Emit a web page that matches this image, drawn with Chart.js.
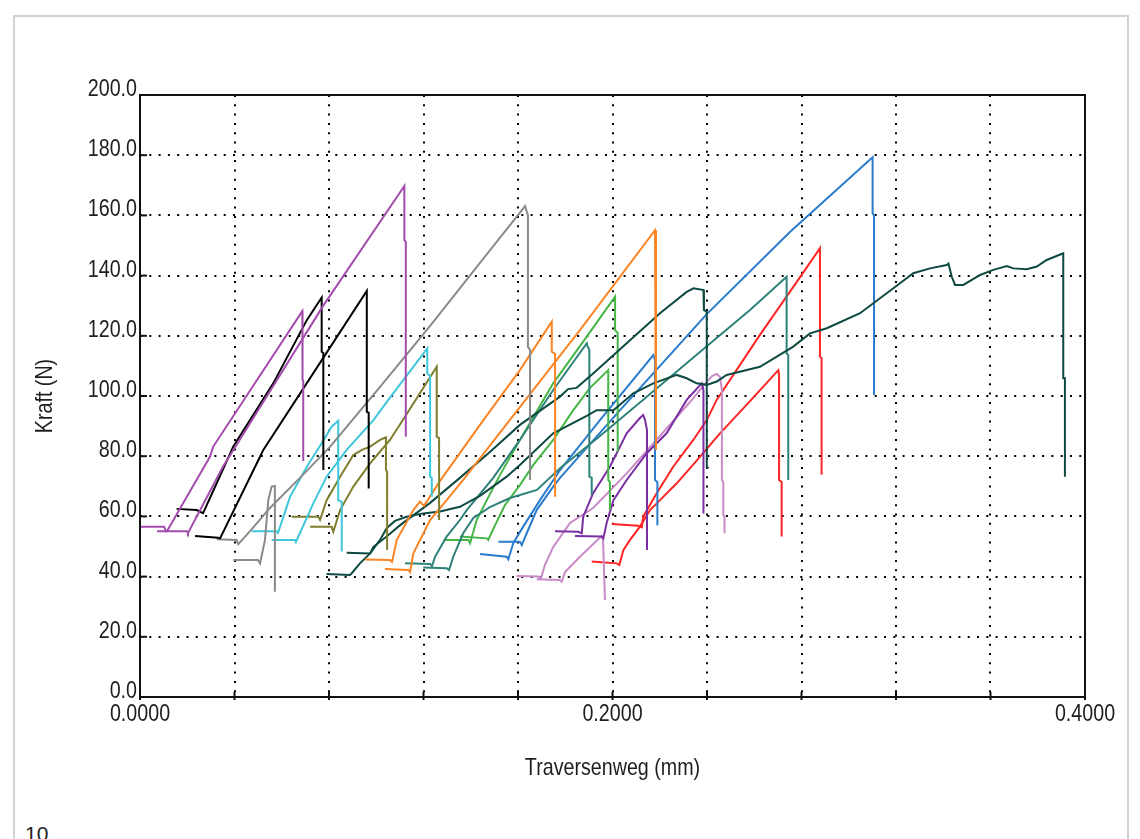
<!DOCTYPE html>
<html>
<head>
<meta charset="utf-8">
<title>Kraft / Traversenweg</title>
<script src="https://cdn.jsdelivr.net/npm/chart.js@4.4.1/dist/chart.umd.min.js"></script>
<style>
  html, body { margin: 0; padding: 0; background: #fff; }
  body { width: 1140px; height: 839px; overflow: hidden; position: relative; }
  #page { position: absolute; left: 13px; top: 15px; width: 1112px; height: 900px; border: 2px solid #d2d2d2; border-bottom: none; }
  #pageNo { position: absolute; left: 25px; top: 824px; font: 21px/20px "Liberation Sans", Arial, sans-serif; color: #222; }
  #chart { position: absolute; left: 0; top: 0; }
</style>
</head>
<body>
<div id="page"></div>
<div id="pageNo">10</div>
<canvas id="chart" width="1140" height="839"></canvas>
<script>
// Traversenweg (mm), Kraft (N) pairs, two tests per colour
const purple1 = [[0, 56.6], [0.0102, 56.6], [0.0110, 55.1], [0.0114, 55.1], [0.0296, 79.8], [0.0310, 83.2],
  [0.0687, 128.2], [0.0688, 105.3], [0.0691, 105.0], [0.0691, 78.4]];
const purple2 = [[0.0072, 55.1], [0.0199, 55.1], [0.0203, 54.4], [0.0351, 76.5], [0.0773, 129.7],
  [0.1119, 169.8], [0.1119, 151.8], [0.1125, 151.2], [0.1125, 86.5]];
const black1 = [[0.0155, 62.5], [0.0240, 62.1], [0.0267, 61.1], [0.0395, 83.2], [0.0564, 104.2], [0.0706, 125.2],
  [0.0769, 132.7], [0.0769, 114.7], [0.0776, 114.3], [0.0776, 75.4]];
const black2 = [[0.0233, 53.5], [0.0331, 52.9], [0.0339, 52.7], [0.0508, 79.8], [0.0522, 82.1],
  [0.0960, 134.9], [0.0960, 94.8], [0.0968, 94.4], [0.0968, 69.3]];
const gray1 = [[0.0395, 45.5], [0.0499, 45.5], [0.0508, 44.4], [0.0529, 52.2], [0.0543, 65.4], [0.0557, 69.9],
  [0.0571, 70.1], [0.0571, 35.0]];
const gray2 = [[0.0325, 52.4], [0.0409, 52.2], [0.0416, 50.8], [0.0466, 55.1], [0.0550, 62.8], [0.0677, 72.8],
  [0.0804, 83.1], [0.1016, 103.0], [0.1228, 123.3], [0.1439, 144.2], [0.1630, 163.1],
  [0.1642, 160.1], [0.1642, 116.4], [0.1651, 115.3], [0.1651, 72.1]];
const cyan1 = [[0.0473, 55.1], [0.0579, 55.1], [0.0584, 54.5], [0.0635, 66.5], [0.0706, 76.5], [0.0769, 84.3],
  [0.0811, 89.8], [0.0839, 91.8], [0.0839, 65.4], [0.0854, 64.8], [0.0854, 48.3]];
const cyan2 = [[0.0557, 52.2], [0.0656, 52.2], [0.0660, 51.5], [0.0734, 64.4], [0.0790, 73.2], [0.0875, 82.1],
  [0.0988, 92.0], [0.1051, 98.7], [0.1216, 115.8], [0.1216, 107.5], [0.1228, 106.6], [0.1228, 73.2],
  [0.1235, 72.8], [0.1235, 66.5]];
const olive1 = [[0.0642, 59.9], [0.0755, 59.9], [0.0762, 58.8], [0.0790, 65.4], [0.0847, 73.2], [0.0903, 80.4],
  [0.0940, 82.1], [0.0974, 83.2], [0.1016, 85.4], [0.1041, 86.3], [0.1041, 75.4], [0.1046, 74.8], [0.1046, 48.8]];
const olive2 = [[0.0720, 56.6], [0.0811, 56.6], [0.0818, 54.9], [0.0847, 62.1], [0.0903, 69.9], [0.0974, 77.6],
  [0.1058, 85.4], [0.1129, 94.0], [0.1256, 109.7], [0.1256, 86.5], [0.1266, 86.0], [0.1266, 58.8]];
const orange1 = [[0.0952, 45.7], [0.1058, 45.5], [0.1067, 44.9], [0.1087, 52.2], [0.1157, 62.1], [0.1185, 64.9],
  [0.1202, 63.5], [0.1270, 71.8], [0.1439, 90.4], [0.1608, 108.6], [0.1743, 124.7],
  [0.1743, 114.7], [0.1757, 114.0], [0.1757, 66.5]];
const orange2 = [[0.1037, 42.5], [0.1136, 42.2], [0.1143, 41.5], [0.1157, 47.7], [0.1228, 58.8], [0.1298, 65.4],
  [0.1368, 72.1], [0.1608, 96.3], [0.1862, 121.9], [0.2180, 155.1], [0.2184, 154.5], [0.2184, 82.1]];
const darkGreen1 = [[0.0875, 47.9], [0.0974, 47.7], [0.0988, 49.9], [0.1044, 53.3], [0.1101, 57.1], [0.1228, 64.5],
  [0.1354, 72.8], [0.1481, 81.4], [0.1608, 90.4], [0.1778, 99.8], [0.1812, 102.3], [0.1848, 102.7],
  [0.1918, 107.5], [0.2060, 117.5], [0.2201, 127.5], [0.2314, 134.6], [0.2343, 135.8], [0.2385, 135.2],
  [0.2387, 128.6], [0.2399, 127.9], [0.2399, 76.5], [0.2406, 76.0]];
const darkGreen2 = [[0.0790, 40.9], [0.0889, 40.5], [0.0897, 41.2], [0.0931, 44.4], [0.0974, 47.7], [0.1016, 52.2],
  [0.1044, 56.1], [0.1079, 58.5], [0.1129, 59.9], [0.1199, 61.0], [0.1270, 61.6], [0.1354, 63.2], [0.1439, 66.8],
  [0.1552, 73.2], [0.1608, 77.1], [0.1749, 87.6], [0.1891, 93.4], [0.1933, 95.3], [0.2004, 95.3], [0.2088, 100.9],
  [0.2173, 104.2], [0.2272, 107.0], [0.2314, 105.9], [0.2356, 104.2], [0.2399, 103.7], [0.2441, 104.8],
  [0.2483, 107.0], [0.2624, 109.7], [0.2765, 116.4], [0.2836, 120.8], [0.2907, 122.5], [0.3048, 127.5],
  [0.3104, 130.8], [0.3189, 135.8], [0.3273, 140.8], [0.3344, 142.4], [0.3415, 143.5], [0.3422, 144.0],
  [0.3436, 139.6], [0.3450, 136.9], [0.3485, 136.9], [0.3556, 140.2], [0.3612, 141.9], [0.3669, 143.2],
  [0.3697, 142.4], [0.3753, 142.1], [0.3796, 143.0], [0.3838, 145.2], [0.3908, 147.4],
  [0.3908, 105.9], [0.3915, 105.9], [0.3915, 73.2]];
const teal1 = [[0.1122, 44.4], [0.1228, 44.2], [0.1236, 43.5], [0.1249, 46.6], [0.1298, 53.3], [0.1354, 58.8],
  [0.1383, 62.1], [0.1495, 72.8], [0.1608, 85.4], [0.1749, 102.0], [0.1834, 111.3], [0.1891, 117.5],
  [0.1892, 116.9], [0.1902, 115.3], [0.1902, 73.2], [0.1912, 72.8], [0.1912, 67.1]];
const teal2 = [[0.1199, 43.0], [0.1298, 42.8], [0.1308, 42.2], [0.1326, 46.6], [0.1368, 54.4], [0.1411, 59.5],
  [0.1481, 63.1], [0.1566, 66.1], [0.1680, 68.8], [0.1778, 76.0], [0.1947, 86.7], [0.2159, 100.7],
  [0.2370, 114.6], [0.2582, 128.6], [0.2737, 139.6], [0.2737, 114.2], [0.2744, 113.6], [0.2744, 72.1]];
const green1 = [[0.1354, 53.3], [0.1468, 52.7], [0.1474, 52.2], [0.1503, 57.1], [0.1545, 63.8], [0.1608, 70.4],
  [0.1665, 77.1], [0.1749, 85.4], [0.1834, 95.3], [0.1905, 102.7], [0.1982, 108.6],
  [0.1982, 72.1], [0.1989, 71.4], [0.1989, 62.1]];
const green2 = [[0.1284, 52.2], [0.1390, 52.2], [0.1397, 51.1], [0.1425, 58.8], [0.1468, 65.4], [0.1524, 73.8],
  [0.1608, 85.4], [0.1749, 104.2], [0.1891, 119.7], [0.2011, 133.0], [0.2011, 121.9], [0.2022, 120.9], [0.2022, 81.5]];
const blue1 = [[0.1439, 47.5], [0.1552, 46.6], [0.1559, 45.7], [0.1580, 51.1], [0.1622, 56.6], [0.1693, 65.4],
  [0.1778, 75.4], [0.1947, 92.0], [0.2173, 113.6], [0.2180, 112.0], [0.2180, 72.1], [0.2190, 71.4], [0.2190, 57.1]];
const blue2 = [[0.1517, 51.6], [0.1608, 51.6], [0.1616, 50.5], [0.1637, 54.4], [0.1679, 62.1], [0.1749, 69.9],
  [0.1778, 72.8], [0.2032, 95.3], [0.2399, 127.2], [0.2751, 154.5], [0.3101, 179.3],
  [0.3101, 160.7], [0.3107, 160.1], [0.3107, 100.3]];
const violet1 = [[0.1757, 55.1], [0.1855, 54.9], [0.1870, 54.4], [0.1876, 59.9], [0.1918, 67.7], [0.1989, 76.5],
  [0.2060, 87.6], [0.2116, 92.7], [0.2130, 93.7], [0.2138, 92.0], [0.2146, 88.7], [0.2146, 48.8]];
const violet2 = [[0.1841, 53.5], [0.1954, 53.3], [0.1961, 52.7], [0.1975, 57.7], [0.2004, 65.4], [0.2060, 72.1],
  [0.2145, 81.0], [0.2229, 87.6], [0.2314, 98.7], [0.2378, 104.2], [0.2385, 102.0], [0.2385, 61.0]];
const lilac1 = [[0.1679, 39.1], [0.1778, 38.9], [0.1785, 38.3], [0.1799, 41.5], [0.1862, 46.6], [0.1954, 53.5],
  [0.1960, 52.2], [0.1968, 32.2]];
const lilac2 = [[0.1594, 40.2], [0.1686, 40.0], [0.1697, 39.4], [0.1714, 43.9], [0.1749, 49.8], [0.1820, 57.8],
  [0.1918, 62.8], [0.2060, 74.3], [0.2201, 86.7], [0.2328, 98.0], [0.2399, 104.7], [0.2421, 106.6],
  [0.2441, 107.3], [0.2455, 106.3], [0.2463, 102.0], [0.2463, 72.1], [0.2469, 71.4], [0.2469, 60.5],
  [0.2474, 59.8], [0.2474, 54.4]];
const red1 = [[0.1912, 45.0], [0.2018, 44.4], [0.2029, 43.9], [0.2046, 48.8], [0.2074, 52.2], [0.2116, 56.6],
  [0.2159, 62.1], [0.2201, 65.4], [0.2272, 71.0], [0.2370, 79.8], [0.2455, 87.6], [0.2582, 98.3],
  [0.2702, 108.6], [0.2705, 107.0], [0.2705, 72.1], [0.2716, 71.4], [0.2716, 53.3]];
const red2 = [[0.1997, 57.5], [0.2109, 56.9], [0.2124, 56.4], [0.2130, 59.9], [0.2187, 67.7], [0.2257, 76.5],
  [0.2342, 85.4], [0.2399, 92.0], [0.2441, 98.7], [0.2624, 120.3], [0.2794, 139.5], [0.2878, 149.1],
  [0.2878, 113.1], [0.2885, 112.6], [0.2885, 73.8]];

// axis ticks and titles
const xLabelValues = [0, 0.2, 0.4];
const xGridStep = 0.04;
const yGridStep = 20;
const xTitle = 'Traversenweg (mm)';
const yTitle = 'Kraft (N)';

// colour per test
const curves = [
  [purple1, '#a34cae'], [purple2, '#a34cae'],
  [black1, '#000000'], [black2, '#000000'],
  [gray1, '#8a8a8a'], [gray2, '#8a8a8a'],
  [cyan1, '#3ec6da'], [cyan2, '#3ec6da'],
  [olive1, '#7e7e2e'], [olive2, '#7e7e2e'],
  [orange1, '#fb8424'], [orange2, '#fb8424'],
  [darkGreen1, '#0e4a42'], [darkGreen2, '#0e4a42'],
  [teal1, '#2e8279'], [teal2, '#2e8279'],
  [green1, '#45b545'], [green2, '#45b545'],
  [blue1, '#2a7ccd'], [blue2, '#2a7ccd'],
  [violet1, '#7a2fa2'], [violet2, '#7a2fa2'],
  [lilac1, '#c98bc8'], [lilac2, '#c98bc8'],
  [red1, '#ff2424'], [red2, '#ff2424']
];

// the original lettering is a narrow sans: draw Liberation Sans squeezed sideways
const squeeze = 0.82;
const textFont = '24px "Liberation Sans", Arial, sans-serif';
const textColor = '#1e1e1e';

function squeezedText(ctx, text, x, y, align, rotated) {
  ctx.save();
  ctx.translate(x, y);
  if (rotated) ctx.rotate(-Math.PI / 2);
  ctx.scale(squeeze, 1);
  ctx.font = textFont;
  ctx.fillStyle = textColor;
  ctx.textAlign = align;
  ctx.textBaseline = 'alphabetic';
  ctx.fillText(text, 0, 0);
  ctx.restore();
}

// solid frame round the plot, short inner tick marks, tick labels and titles
const framePlugin = {
  id: 'frame',
  afterDatasetsDraw(chart) {
    const { ctx, chartArea: a, scales } = chart;
    ctx.save();
    ctx.setLineDash([]);
    ctx.strokeStyle = '#111';
    ctx.lineWidth = 2;
    scales.x.ticks.forEach(t => {
      const px = scales.x.getPixelForValue(t.value);
      ctx.beginPath(); ctx.moveTo(px, a.bottom - 5); ctx.lineTo(px, a.bottom + 3); ctx.stroke();
    });
    scales.y.ticks.forEach(t => {
      const py = scales.y.getPixelForValue(t.value);
      ctx.beginPath(); ctx.moveTo(a.left, py); ctx.lineTo(a.left + 7, py); ctx.stroke();
    });
    ctx.strokeRect(a.left, a.top, a.right - a.left, a.bottom - a.top);
    ctx.restore();

    scales.y.ticks.forEach(t => {
      squeezedText(ctx, t.value.toFixed(1), a.left - 3, scales.y.getPixelForValue(t.value) + 1, 'right');
    });
    xLabelValues.forEach(v => {
      squeezedText(ctx, v.toFixed(4), scales.x.getPixelForValue(v), a.bottom + 24, 'center');
    });
    squeezedText(ctx, xTitle, (a.left + a.right) / 2, a.bottom + 78, 'center');
    squeezedText(ctx, yTitle, 52, (a.top + a.bottom) / 2, 'center', true);
  }
};

function initChart() {
  const ctx = document.getElementById('chart').getContext('2d');
  new Chart(ctx, {
    type: 'scatter',
    data: {
      datasets: curves.map(([pts, color]) => ({
        data: pts.map(p => ({ x: p[0], y: p[1] })),
        showLine: true,
        borderColor: color,
        borderWidth: 2,
        pointRadius: 0,
        tension: 0,
        fill: false
      }))
    },
    options: {
      responsive: false,
      animation: false,
      events: [],
      layout: { padding: { top: 95, right: 55, left: 0, bottom: 0 } },
      plugins: { legend: { display: false }, tooltip: { enabled: false } },
      scales: {
        x: {
          type: 'linear', min: 0, max: 0.4,
          afterFit(scale) { scale.height = 142; },
          ticks: { stepSize: xGridStep, autoSkip: false, display: false },
          grid: { color: '#000', lineWidth: 2, drawTicks: false },
          border: { display: false, dash: [2, 7.3] },
          title: { display: false }
        },
        y: {
          min: 0, max: 200,
          afterFit(scale) { scale.width = 140; },
          ticks: { stepSize: yGridStep, display: false },
          grid: { color: '#000', lineWidth: 2, drawTicks: false },
          border: { display: false, dash: [2, 7.3] },
          title: { display: false }
        }
      }
    },
    plugins: [framePlugin]
  });
}

document.addEventListener('DOMContentLoaded', initChart);
</script>
</body>
</html>
